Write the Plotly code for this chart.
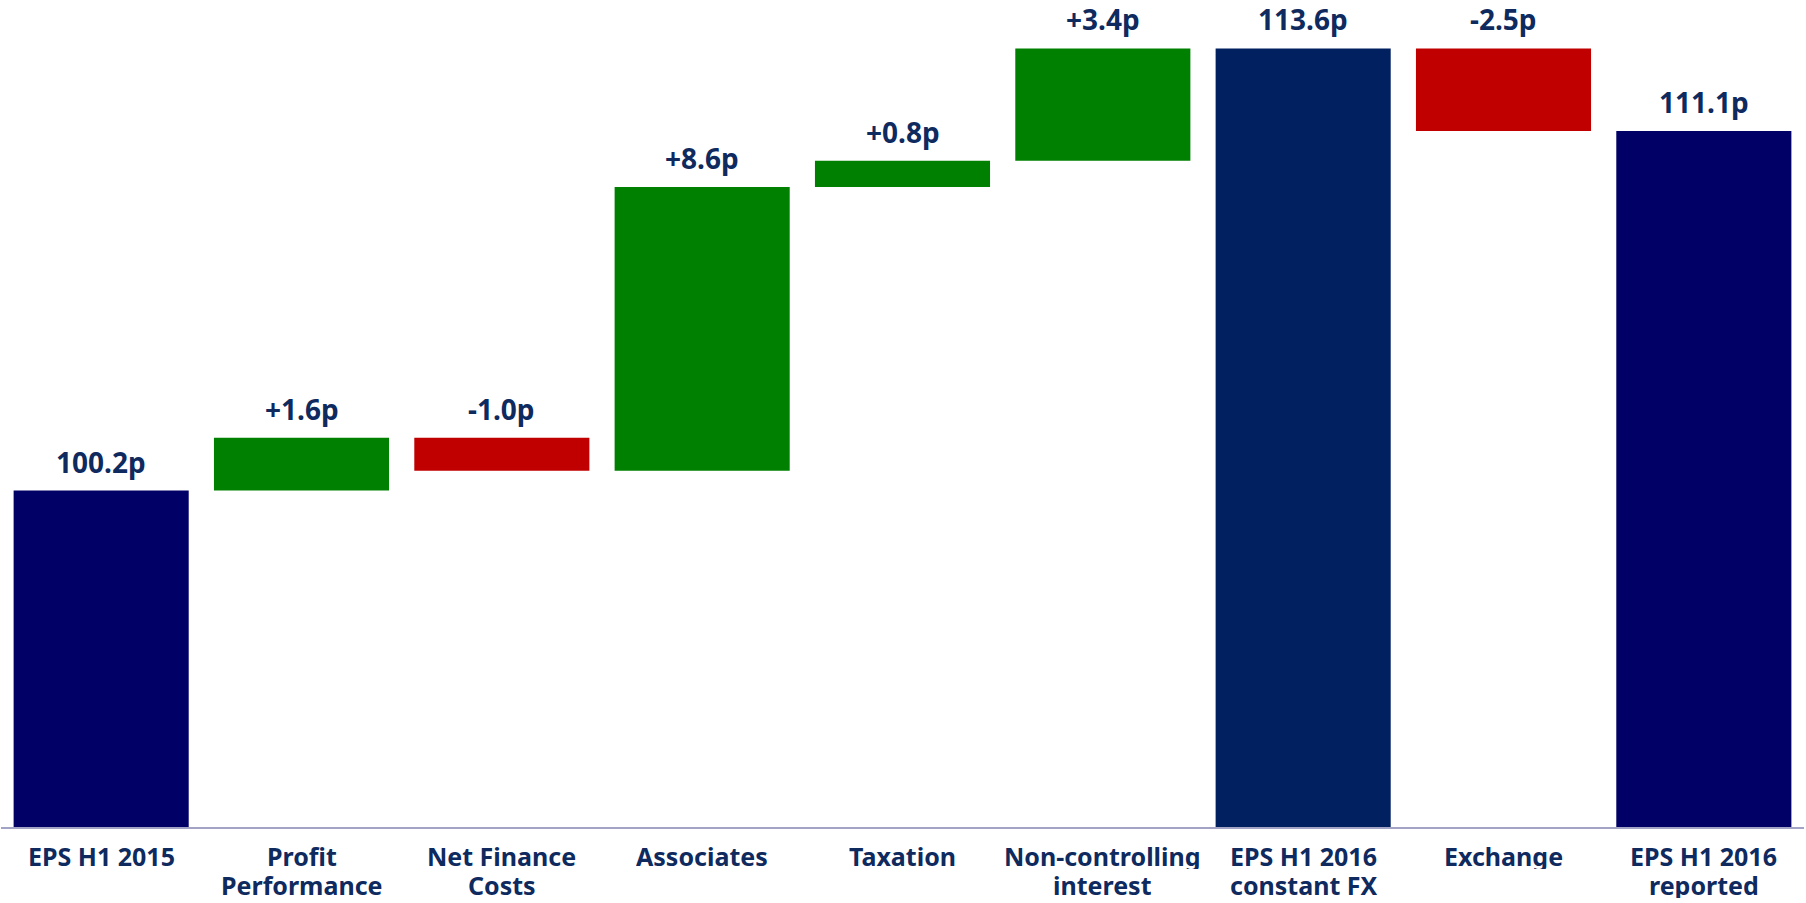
import plotly.graph_objects as go

categories = ["EPS H1 2015", "Profit<br>Performance", "Net Finance<br>Costs", "Associates",
              "Taxation", "Non-controlling<br>interest", "EPS H1 2016<br>constant FX",
              "Exchange", "EPS H1 2016<br>reported"]
values = [100.2, 1.6, -1.0, 8.6, 0.8, 3.4, 113.6, -2.5, 111.1]
measures = ["total", "relative", "relative", "relative", "relative", "relative",
            "total", "relative", "total"]
labels = ["100.2p", "+1.6p", "-1.0p", "+8.6p", "+0.8p", "+3.4p", "113.6p", "-2.5p", "111.1p"]
total_colors = ["#000066", None, None, None, None, None, "#002060", None, "#000066"]

UP = "#008000"
DOWN = "#C00000"
TXT = "#0E2A5E"

bases, heights, colors, tops = [], [], [], []
running = 0.0
for v, m, tc in zip(values, measures, total_colors):
    if m == "total":
        bases.append(0.0)
        heights.append(v)
        colors.append(tc)
        running = v
        tops.append(v)
    else:
        bases.append(running)
        heights.append(v)
        colors.append(UP if v >= 0 else DOWN)
        tops.append(max(running, running + v))
        running += v

fig = go.Figure()
fig.add_trace(go.Bar(
    x=categories, y=heights, base=bases,
    marker=dict(color=colors, line=dict(width=0)),
    hoverinfo="skip", showlegend=False,
))

# value labels
for c, t, lab in zip(categories, tops, labels):
    fig.add_annotation(x=c, y=t, text="<b>" + lab + "</b>", showarrow=False,
                       yanchor="bottom", yshift=8,
                       font=dict(family="Noto Sans", size=28, color=TXT))

# category labels (two lines, tight spacing)
for c in categories:
    parts = c.split("<br>")
    for i, p in enumerate(parts):
        fig.add_annotation(x=c, xref="x", y=0, yref="paper", text="<b>" + p + "</b>",
                           showarrow=False, yanchor="top", yshift=-13 - 29 * i,
                           height=27, valign="middle",
                           font=dict(family="Noto Sans", size=25, color=TXT))

fig.update_layout(
    width=1806, height=903,
    margin=dict(l=1, r=2, t=0, b=76),
    paper_bgcolor="white", plot_bgcolor="white",
    bargap=0.126,
    xaxis=dict(showline=True, linecolor="#A3A3C6", linewidth=2, ticks="",
               showticklabels=False, showgrid=False, zeroline=False),
    yaxis=dict(range=[90.0, 115.07], visible=False, showgrid=False, zeroline=False),
)

fig.write_html("out.html", config={"displayModeBar": False},
               post_script="document.body.style.margin='0';document.body.style.padding='0';")
